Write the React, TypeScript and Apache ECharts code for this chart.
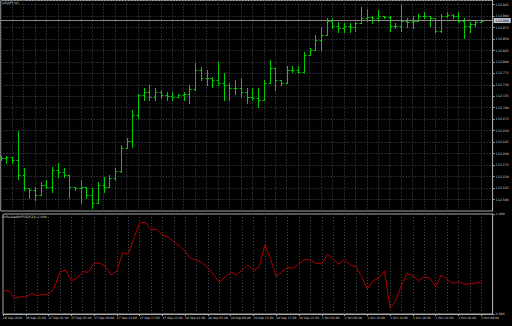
import { useEffect, useRef } from "react";
import * as echarts from "echarts";

const symbolTitle = "USDJPY,H1";
const indicatorTitle = "FXRelatedWPUSD(24) 1.000";
const firstLabel = "26 Sep 2018";
// [day, first hour, last hour] of the hourly bars
const daySegments: [string, number, number][] = [
  ["26 Sep", 17, 23],
  ["27 Sep", 0, 23],
  ["28 Sep", 0, 23],
  ["1 Oct", 1, 23],
  ["2 Oct", 0, 6],
];

const open = [
  112.590, 112.590, 112.592, 112.586, 112.553, 112.525, 112.521, 112.510, 112.531, 112.527,
  112.564, 112.560, 112.553, 112.527, 112.525, 112.527, 112.510, 112.492, 112.531, 112.527,
  112.547, 112.562, 112.612, 112.627, 112.684, 112.727, 112.734, 112.723, 112.734, 112.727,
  112.725, 112.723, 112.727, 112.731, 112.740, 112.782, 112.764, 112.764, 112.760, 112.753,
  112.749, 112.742, 112.742, 112.734, 112.723, 112.721, 112.716, 112.755, 112.786, 112.760,
  112.755, 112.782, 112.782, 112.777, 112.814, 112.825, 112.847, 112.858, 112.890, 112.879,
  112.873, 112.879, 112.877, 112.884, 112.895, 112.897, 112.895, 112.899, 112.897, 112.879,
  112.879, 112.890, 112.886, 112.890, 112.899, 112.901, 112.895, 112.868, 112.901, 112.903,
  112.899, 112.890, 112.879, 112.882, 112.886,
];
const high = [
  112.595, 112.595, 112.592, 112.649, 112.568, 112.525, 112.527, 112.538, 112.542, 112.571,
  112.579, 112.568, 112.553, 112.527, 112.542, 112.527, 112.525, 112.538, 112.549, 112.553,
  112.568, 112.618, 112.634, 112.695, 112.731, 112.742, 112.749, 112.742, 112.738, 112.734,
  112.734, 112.731, 112.734, 112.749, 112.797, 112.788, 112.782, 112.766, 112.799, 112.775,
  112.753, 112.760, 112.764, 112.742, 112.742, 112.742, 112.760, 112.805, 112.786, 112.760,
  112.790, 112.792, 112.792, 112.821, 112.831, 112.858, 112.875, 112.895, 112.895, 112.886,
  112.884, 112.884, 112.886, 112.919, 112.916, 112.901, 112.912, 112.901, 112.901, 112.884,
  112.923, 112.895, 112.901, 112.905, 112.908, 112.901, 112.895, 112.905, 112.908, 112.905,
  112.908, 112.895, 112.886, 112.890, 112.890,
];
const low = [
  112.586, 112.579, 112.579, 112.545, 112.521, 112.503, 112.499, 112.510, 112.525, 112.516,
  112.549, 112.549, 112.505, 112.521, 112.492, 112.503, 112.482, 112.492, 112.516, 112.527,
  112.542, 112.560, 112.612, 112.614, 112.677, 112.716, 112.716, 112.716, 112.721, 112.716,
  112.716, 112.723, 112.716, 112.710, 112.738, 112.760, 112.749, 112.745, 112.749, 112.716,
  112.716, 112.731, 112.723, 112.710, 112.716, 112.701, 112.716, 112.755, 112.738, 112.749,
  112.755, 112.777, 112.775, 112.777, 112.814, 112.825, 112.825, 112.858, 112.873, 112.864,
  112.864, 112.864, 112.868, 112.884, 112.890, 112.884, 112.890, 112.895, 112.868, 112.873,
  112.868, 112.875, 112.873, 112.890, 112.895, 112.879, 112.864, 112.864, 112.897, 112.895,
  112.886, 112.853, 112.864, 112.879, 112.886,
];
const close = [
  112.590, 112.592, 112.586, 112.553, 112.525, 112.521, 112.510, 112.531, 112.527, 112.564,
  112.560, 112.553, 112.527, 112.525, 112.527, 112.510, 112.492, 112.531, 112.527, 112.547,
  112.562, 112.612, 112.627, 112.684, 112.727, 112.734, 112.723, 112.734, 112.727, 112.725,
  112.723, 112.727, 112.731, 112.740, 112.782, 112.764, 112.764, 112.760, 112.753, 112.749,
  112.742, 112.742, 112.734, 112.723, 112.721, 112.716, 112.755, 112.786, 112.760, 112.755,
  112.782, 112.782, 112.777, 112.814, 112.825, 112.847, 112.858, 112.890, 112.879, 112.873,
  112.879, 112.877, 112.884, 112.895, 112.897, 112.895, 112.899, 112.897, 112.879, 112.879,
  112.890, 112.886, 112.890, 112.899, 112.901, 112.895, 112.868, 112.901, 112.903, 112.899,
  112.890, 112.879, 112.882, 112.886, 112.888,
];
const indicator = [
  0.99693, 0.99693, 0.99664, 0.99669, 0.99668, 0.99682, 0.99673, 0.99679, 0.99679, 0.99704,
  0.99768, 0.99776, 0.99733, 0.99743, 0.99769, 0.99767, 0.99803, 0.99803, 0.99790, 0.99756,
  0.99772, 0.99845, 0.99840, 0.99904, 0.99965, 0.99967, 0.99936, 0.99939, 0.99916, 0.99907,
  0.99889, 0.99872, 0.99850, 0.99822, 0.99816, 0.99804, 0.99784, 0.99758, 0.99727, 0.99748,
  0.99768, 0.99756, 0.99776, 0.99796, 0.99774, 0.99789, 0.99876, 0.99820, 0.99749, 0.99769,
  0.99786, 0.99783, 0.99802, 0.99818, 0.99816, 0.99803, 0.99800, 0.99839, 0.99819, 0.99799,
  0.99818, 0.99796, 0.99789, 0.99749, 0.99700, 0.99733, 0.99743, 0.99772, 0.99623, 0.99656,
  0.99716, 0.99763, 0.99752, 0.99733, 0.99749, 0.99743, 0.99709, 0.99756, 0.99739, 0.99723,
  0.99729, 0.99720, 0.99720, 0.99724, 0.99728,
];

const pad = (n: number) => (n < 10 ? "0" + n : "" + n);
const categories: string[] = [];
daySegments.forEach(([d, a, b]) => {
  for (let h = a; h <= b; h++) categories.push(`${d} ${pad(h)}:00`);
});

const font = "'DejaVu Sans', sans-serif";
const gridColor = "#464d56";
const axisColor = "#a8a8a8";
const textColor = "#d4d4d4";
const barColor = "#00cc00";
const fsX = 3;
const fsY = 3.2;

export default function App() {
  const ref = useRef<HTMLDivElement>(null);
  useEffect(() => {
    const chart = echarts.init(ref.current!, null, { renderer: "svg" });
    const renderItem = (_params: any, api: any) => {
      const i = api.value(0);
      const pO = api.coord([i, api.value(1)]);
      const pH = api.coord([i, api.value(2)]);
      const pL = api.coord([i, api.value(3)]);
      const pC = api.coord([i, api.value(4)]);
      const x = Math.round(pO[0]) + 0.5;
      const yo = Math.round(pO[1]) + 0.5;
      const yc = Math.round(pC[1]) + 0.5;
      const style = { stroke: barColor, lineWidth: 1 };
      return {
        type: "group",
        children: [
          { type: "line", shape: { x1: x, y1: Math.round(pH[1]), x2: x, y2: Math.round(pL[1]) + 1 }, style },
          { type: "line", shape: { x1: x - 2, y1: yo, x2: x, y2: yo }, style },
          { type: "line", shape: { x1: x, y1: yc, x2: x + 2, y2: yc }, style },
        ],
      };
    };
    const splitV = { show: true, interval: 1, lineStyle: { color: gridColor, type: [1, 2] as any, width: 1 } };
    const option: any = {
      animation: false,
      backgroundColor: "#000000",
      textStyle: { fontFamily: font },
      title: [
        { text: symbolTitle, left: 2, top: 1, padding: 0, textStyle: { color: textColor, fontSize: fsY, fontWeight: "normal", fontFamily: font } },
        { text: indicatorTitle, left: 2, top: 215, padding: 0, textStyle: { color: textColor, fontSize: fsY, fontWeight: "normal", fontFamily: font } },
      ],
      grid: [
        { left: 0.7, right: 19.4, top: 0.5, height: 210.5, show: true, borderColor: axisColor, borderWidth: 1 },
        { left: 0.7, right: 19.4, top: 214, height: 100, show: true, borderColor: axisColor, borderWidth: 1 },
      ],
      xAxis: [
        {
          type: "category", gridIndex: 0, data: categories, boundaryGap: false, max: 86,
          axisLine: { show: false }, axisTick: { show: false }, axisLabel: { show: false }, splitLine: splitV,
        },
        {
          type: "category", gridIndex: 1, data: categories, boundaryGap: false, max: 86,
          axisLine: { show: true, lineStyle: { color: axisColor } },
          axisTick: { show: true, interval: 3, length: 2, lineStyle: { color: axisColor } },
          axisLabel: {
            interval: 3, align: "left", margin: 2.5, fontSize: fsX, color: textColor, fontFamily: font,
            formatter: (v: string, idx: number) => (idx === 0 ? firstLabel : v),
          },
          splitLine: splitV,
        },
      ],
      yAxis: [
        {
          type: "value", gridIndex: 0, position: "right", min: 112.475, max: 112.9337, interval: 0.025,
          axisLine: { show: true, lineStyle: { color: axisColor } },
          axisTick: { show: true, length: 2, lineStyle: { color: axisColor } },
          axisLabel: {
            showMinLabel: false, showMaxLabel: false, fontSize: fsY, color: textColor, margin: 3, fontFamily: font,
            formatter: (v: number) => v.toFixed(3),
          },
          splitLine: { show: true, lineStyle: { color: gridColor, type: [1, 2], width: 1 } },
        },
        {
          type: "value", gridIndex: 1, position: "right", min: 0.996, max: 1.0, interval: 0.004,
          axisLine: { show: true, lineStyle: { color: axisColor } },
          axisTick: { show: true, length: 2, lineStyle: { color: axisColor } },
          axisLabel: { fontSize: fsY, color: textColor, margin: 3, fontFamily: font, formatter: (v: number) => v.toFixed(3) },
          splitLine: { show: false },
        },
      ],
      series: [
        {
          type: "custom", xAxisIndex: 0, yAxisIndex: 0,
          data: open.map((o, i) => [i, o, high[i], low[i], close[i]]),
          encode: { x: 0, y: [1, 2, 3, 4] },
          renderItem,
          markLine: {
            silent: true, symbol: ["none", "none"],
            data: [{ yAxis: close[close.length - 1] }],
            lineStyle: { color: "#8a8a8a", type: "solid", width: 1 },
            label: {
              position: "end", distance: 1, fontSize: fsY, color: "#000", backgroundColor: "#b8c4d0",
              padding: [1, 2], fontFamily: font, formatter: (p: any) => Number(p.value).toFixed(3),
            },
          },
        },
        {
          type: "line", xAxisIndex: 1, yAxisIndex: 1, data: indicator, showSymbol: false,
          lineStyle: { color: "#b00000", width: 1 },
        },
      ],
    };
    chart.setOption(option);
    return () => chart.dispose();
  }, []);
  return (
    <div
      ref={ref}
      style={{ position: "fixed", left: 0, top: 0, width: 512, height: 326, background: "#000" }}
    />
  );
}
